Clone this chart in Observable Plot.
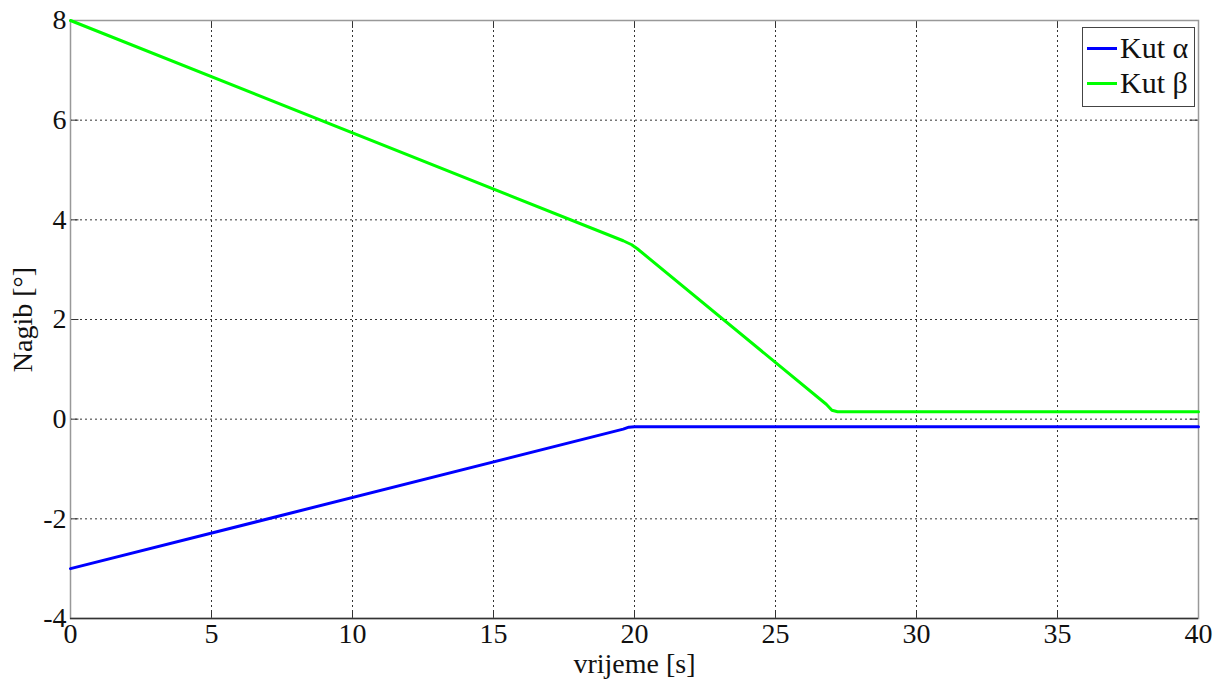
<!DOCTYPE html>
<html><head><meta charset="utf-8">
<script src="https://cdn.jsdelivr.net/npm/d3@7"></script>
<script src="https://cdn.jsdelivr.net/npm/@observablehq/plot@0.6"></script>
<style>
body{margin:0;background:#fff;}
#wrap{position:relative;width:1224px;height:682px;font-family:'Liberation Serif','Times New Roman',serif;}
#legend{position:absolute;left:1082px;top:27px;width:113px;height:80px;border:1px solid #444;background:#fff;box-sizing:border-box;font-size:30px;color:#111;}
#legend .row{position:absolute;left:4px;height:36px;line-height:36px;display:flex;align-items:center;white-space:nowrap;}
#legend .sw{width:30px;height:3px;margin-right:3px;}
</style></head>
<body><div id="wrap"></div>
<script>
const alphaT = [0, 19.6, 19.8, 20, 40];
const alphaV = [-3, -0.2, -0.16, -0.15, -0.15];
const betaT = [0, 19.6, 19.9, 20.1, 26.8, 27.0, 27.2, 40];
const betaV = [8, 3.58, 3.5, 3.42, 0.3, 0.18, 0.15, 0.15];
const xTicks = [0, 5, 10, 15, 20, 25, 30, 35, 40];
const yTicks = [-4, -2, 0, 2, 4, 6, 8];
const series = [
  {name: "Kut α", color: "#0000ff", t: alphaT, v: alphaV},
  {name: "Kut β", color: "#00ff00", t: betaT, v: betaV}
];
const data = series.flatMap(s => s.t.map((t, i) => ({t, v: s.v[i], name: s.name})));
const fmt = d => String(d);
const FONT = "'Liberation Serif','Times New Roman',serif";

const chart = Plot.plot({
  width: 1224, height: 682,
  marginLeft: 70, marginRight: 26, marginTop: 20, marginBottom: 64,
  style: {fontFamily: FONT, fontSize: "28px", color: "#111", background: "#fff"},
  x: {domain: [0, 40], ticks: xTicks, label: null},
  y: {domain: [-4, 8], ticks: yTicks, label: null},
  color: {domain: series.map(s => s.name), range: series.map(s => s.color)},
  marks: [
    Plot.ruleX(xTicks.slice(1, -1), {stroke: "#333", strokeDasharray: "2,3", strokeWidth: 1}),
    Plot.ruleY(yTicks.slice(1, -1), {stroke: "#333", strokeDasharray: "2,3", strokeWidth: 1}),
    Plot.ruleX(xTicks, {y1: -4, y2: -3.84, stroke: "#333"}),
    Plot.ruleX(xTicks, {y1: 8, y2: 7.84, stroke: "#333"}),
    Plot.ruleY(yTicks, {x1: 0, x2: 0.3, stroke: "#333"}),
    Plot.ruleY(yTicks, {x1: 40, x2: 39.7, stroke: "#333"}),
    Plot.frame({stroke: "#999", strokeWidth: 1.5}),
    Plot.ruleY([-4], {stroke: "#333", strokeWidth: 1.5}),
    Plot.line(data, {x: "t", y: "v", z: "name", stroke: "name", strokeWidth: 3, curve: "linear"}),
    Plot.axisX({ticks: xTicks, tickFormat: fmt, tickSize: 0, tickPadding: 5, fontSize: 28, label: "vrijeme [s]", labelAnchor: "center", labelArrow: "none", labelOffset: 54}),
    Plot.axisY({ticks: yTicks, tickFormat: fmt, tickSize: 0, tickPadding: 4, fontSize: 28, label: "Nagib [°]", labelAnchor: "center", labelArrow: "none", labelOffset: 58})
  ]
});
const wrap = document.getElementById("wrap");
wrap.appendChild(chart);
d3.select(chart).selectAll("text").style("font-family", FONT).style("font-size", "28px");

const leg = document.createElement("div");
leg.id = "legend";
series.forEach((s, i) => {
  const row = document.createElement("div");
  row.className = "row";
  row.style.top = (2 + i * 35) + "px";
  row.innerHTML = `<span class="sw" style="background:${s.color}"></span><span>${s.name}</span>`;
  leg.appendChild(row);
});
wrap.appendChild(leg);
</script></body></html>
